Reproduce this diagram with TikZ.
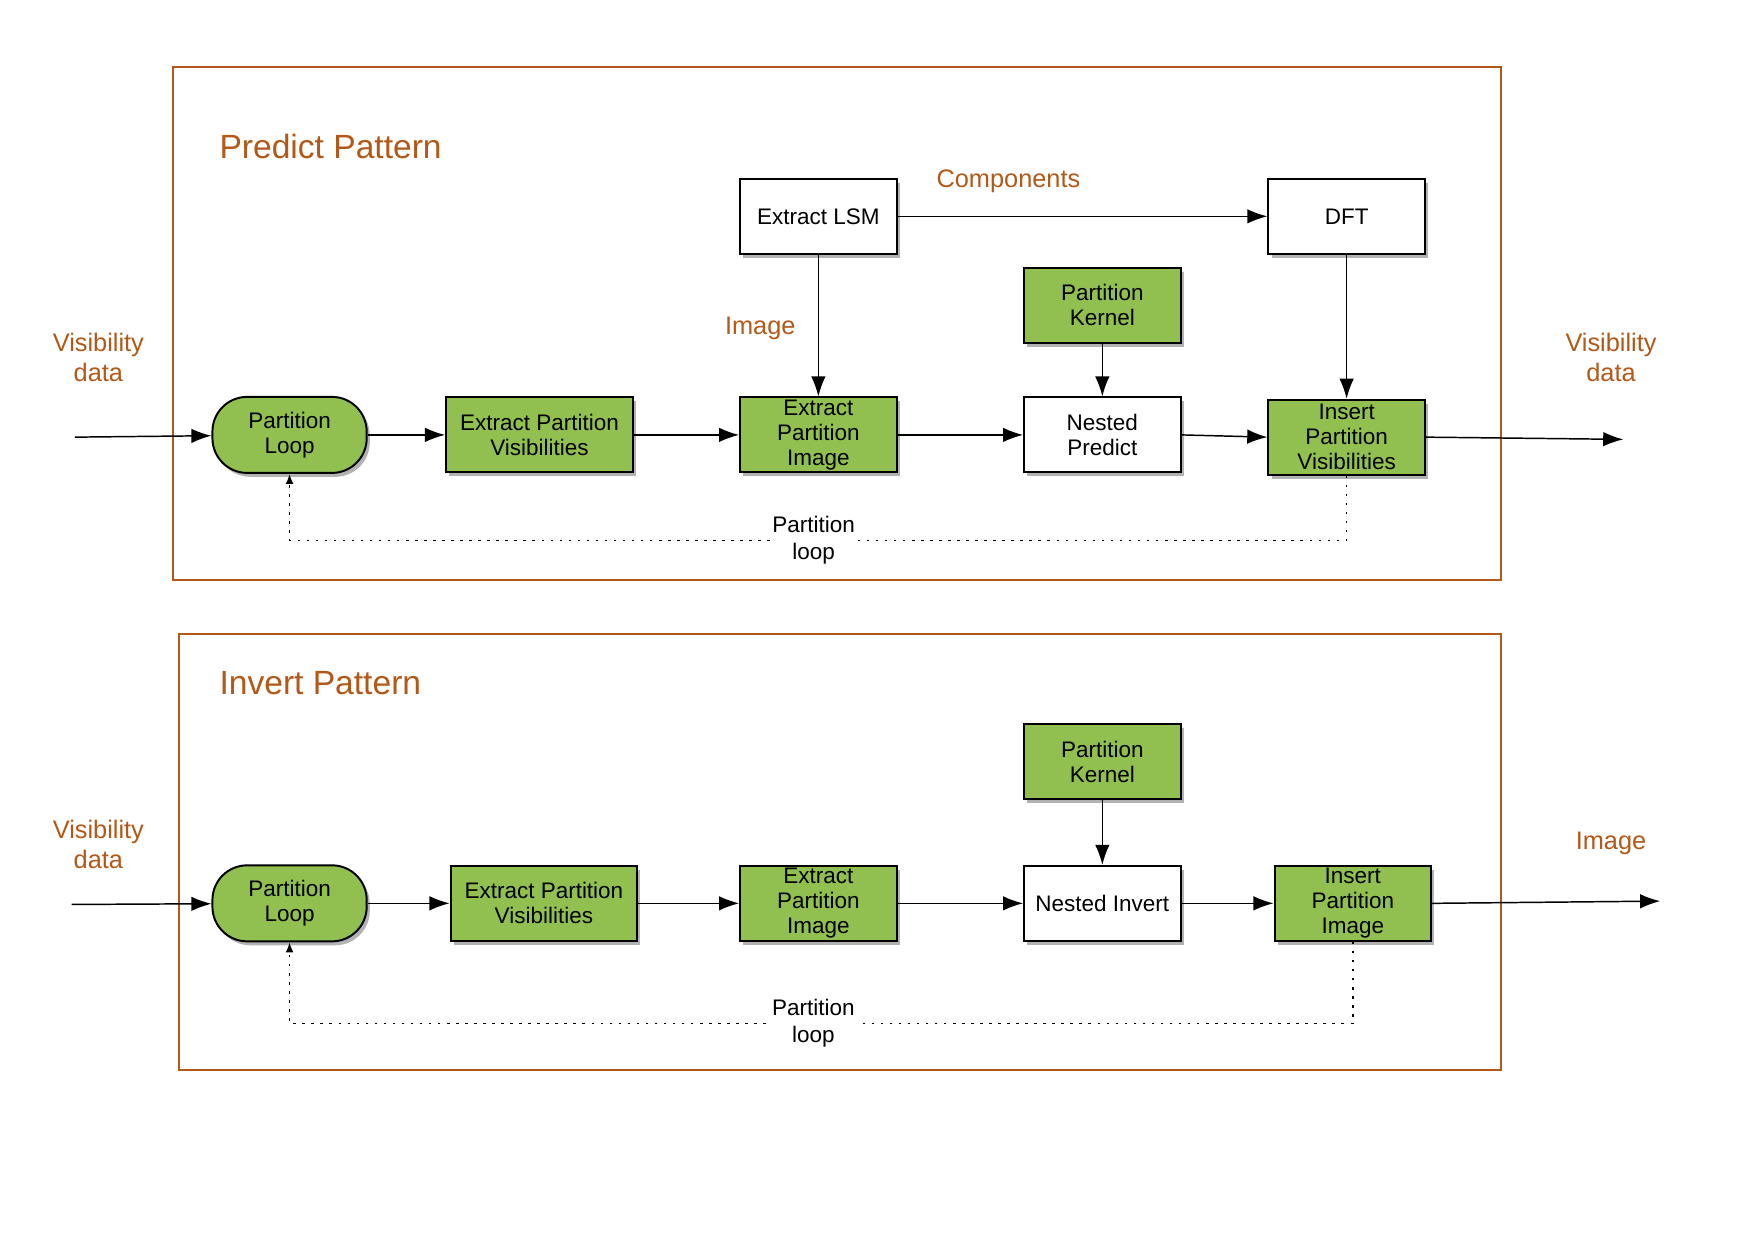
\documentclass[tikz,border=0pt]{standalone}
\usepackage{fontspec}
\setmainfont{Liberation Sans}
\usetikzlibrary{arrows.meta, shadows}
\definecolor{rustorange}{RGB}{178,88,24}
\definecolor{leafgreen}{RGB}{146,192,80}
\tikzset{every node/.append style = {font=\fontsize{11.45}{12.8}\selectfont, align=center}}
\tikzset{proc/.style = {draw, line width=1pt, minimum width=2.8cm, minimum height=1.34cm, inner sep=1pt,
        drop shadow={shadow xshift=1.6pt, shadow yshift=-2pt, fill=black, opacity=0.3}}}
\tikzset{greenbox/.style = {proc, fill=leafgreen}, whitebox/.style = {proc, fill=white}}
\tikzset{loopbox/.style = {greenbox, rounded corners=0.62cm, minimum width=2.76cm, minimum height=1.36cm}}
\tikzset{flow/.style = {line width=0.75pt, -{Latex[length=3.6mm, width=2.6mm]}}}
\tikzset{loopline/.style = {line width=0.8pt, dash pattern=on 1.3pt off 3.3pt, -{Latex[length=1.8mm, width=1.4mm]}}}
\tikzset{patternbox/.style = {draw=rustorange, line width=1pt}}
\tikzset{lbl/.style = {text=rustorange, font=\fontsize{12.9}{15.3}\selectfont}}
\tikzset{ttl/.style = {text=rustorange, anchor=west, inner sep=0pt, font=\fontsize{17.1}{20}\selectfont}}
\tikzset{looplabel/.style = {fill=white, inner sep=1pt, xshift=-0.08cm, font=\fontsize{11.45}{13.6}\selectfont}}

\begin{document}
\begin{tikzpicture}[x=0.02cm, y=-0.02cm]
        \useasboundingbox (0,0) rectangle (1568,1109);
        % predict pattern
        \draw[patternbox] (155,60) rectangle (1343,519);
        \node[ttl] at (196,131) {Predict Pattern};
        \node[whitebox] (lsm) at (732,193.5) {Extract LSM};
        \node[whitebox] (dft) at (1204.5,193.5) {DFT};
        \node[greenbox] (pkP) at (986,273) {Partition\\Kernel};
        \node[loopbox] (plP) at (259,389) {Partition\\Loop};
        \node[greenbox, minimum width=3.34cm] (epvP) at (482.5,389) {Extract Partition\\Visibilities};
        \node[greenbox] (epiP) at (732,389) {Extract\\Partition\\Image};
        \node[whitebox] (np) at (986,389) {Nested\\Predict};
        \node[greenbox] (ipv) at (1204.5,391) {Insert\\Partition\\Visibilities};
        \node[lbl] at (902,162) {Components};
        \node[lbl] at (680,294) {Image};
        \node[lbl] at (88,320) {Visibility\\data};
        \node[lbl] at (1441,320) {Visibility\\data};
        \coordinate (inP) at (67,391);
        \coordinate (outP) at (1452,393);
        \draw[flow] (inP) -- (plP);
        \draw[flow] (plP) -- (epvP);
        \draw[flow] (epvP) -- (epiP);
        \draw[flow] (epiP) -- (np);
        \draw[flow] (np.east) -- (ipv.west);
        \draw[flow] (ipv.east) -- (outP);
        \draw[flow] (lsm) -- (dft);
        \draw[flow] (lsm) -- (epiP);
        \draw[flow] (dft) -- (ipv);
        \draw[flow] (pkP) -- (np);
        \draw[loopline] (ipv.south) -- ++(0,58) -| node[looplabel, pos=0.25] {Partition\\loop} (plP.south);

        % invert pattern
        \draw[patternbox] (160,567) rectangle (1343,957);
        \node[ttl] at (196,611) {Invert Pattern};
        \node[greenbox] (pkI) at (986,681.5) {Partition\\Kernel};
        \node[loopbox] (plI) at (259,808) {Partition\\Loop};
        \node[greenbox, minimum width=3.34cm] (epvI) at (486.5,808) {Extract Partition\\Visibilities};
        \node[greenbox] (epiI) at (732,808) {Extract\\Partition\\Image};
        \node[whitebox] (ni) at (986,808) {Nested Invert};
        \node[greenbox] (ipi) at (1210,808) {Insert\\Partition\\Image};
        \node[lbl] at (88,755) {Visibility\\data};
        \node[lbl] at (1441,754) {Image};
        \coordinate (inI) at (64,809);
        \coordinate (outI) at (1485,806);
        \draw[flow] (inI) -- (plI);
        \draw[flow] (plI) -- (epvI);
        \draw[flow] (epvI) -- (epiI);
        \draw[flow] (epiI) -- (ni);
        \draw[flow] (ni) -- (ipi);
        \draw[flow] (ipi.east) -- (outI);
        \draw[flow] (pkI) -- (ni);
        \draw[loopline] (ipi.south) -- ++(0,73) -| node[looplabel, pos=0.25, xshift=-0.06cm] {Partition\\loop} (plI.south);
    \end{tikzpicture}
\end{document}
